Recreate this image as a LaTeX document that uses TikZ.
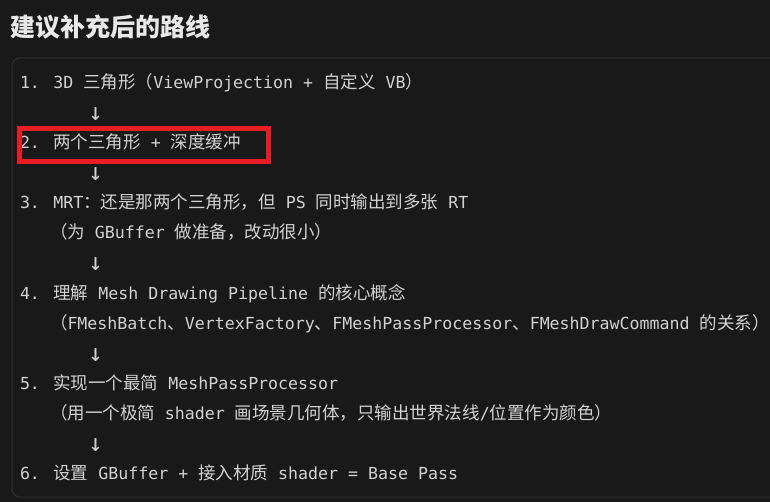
\documentclass[tikz,border=0pt]{standalone}
\usepackage{fontspec}
\newfontfamily\monof{DejaVu Sans Mono}
\newfontfamily\cjkf{Noto Sans CJK SC}
\newcommand\M[1]{{\monof\fontsize{16.6}{20}\selectfont #1}}
\newcommand\C[1]{{\cjkf\fontsize{17.5}{20}\selectfont #1}}
\newcommand\DA{{\monof\fontsize{24}{30}\selectfont ↓}}
\definecolor{bgc}{RGB}{25,25,25}
\definecolor{borderc}{RGB}{48,48,48}
\definecolor{txtc}{RGB}{210,210,210}
\definecolor{titlec}{RGB}{232,232,232}
\definecolor{redc}{RGB}{232,28,36}
\begin{document}
\begin{tikzpicture}[x=1pt,y=-1pt,
  codeline/.style={anchor=base west, inner sep=0pt, outer sep=0pt, text=txtc},
  downarrow/.style={anchor=base, inner sep=0pt, outer sep=0pt, text=txtc},
  blockframe/.style={draw=borderc, line width=1pt, rounded corners=8pt},
  highlight/.style={draw=redc, line width=5.3pt}]
\fill[bgc] (0,0) rectangle (770,502);
\useasboundingbox (0,0) rectangle (770,502);
\clip (0,0) rectangle (770,502);
% title
\node[anchor=base west, inner sep=0pt, text=titlec] (title) at (10.5,37) {\cjkf\bfseries\fontsize{25}{30}\selectfont 建议补充后的路线};
% code block
\draw[blockframe] (12,58) rectangle (800,497);
% lines
\node[codeline] (l1) at (20,89) {\M{1. 3D }\C{三角形（}\M{ViewProjection + }\C{自定义}\M{ VB}\C{）}};
\node[downarrow] (a1) at (95.5,121) {\DA};
\node[codeline] (l2) at (20,149) {\M{2. }\C{两个三角形}\M{ + }\C{深度缓冲}};
\node[downarrow] (a2) at (95.5,181) {\DA};
\node[codeline] (l3) at (20,209) {\M{3. MRT}\C{：还是那两个三角形，但}\M{ PS }\C{同时输出到多张}\M{ RT}};
\node[codeline] (l3b) at (50,239) {\C{（为}\M{ GBuffer }\C{做准备，改动很小）}};
\node[downarrow] (a3) at (95.5,271) {\DA};
\node[codeline] (l4) at (20,299) {\M{4. }\C{理解}\M{ Mesh Drawing Pipeline }\C{的核心概念}};
\node[codeline] (l4b) at (50,329) {\C{（}\M{FMeshBatch}\C{、}\M{VertexFactory}\C{、}\M{FMeshPassProcessor}\C{、}\M{FMeshDrawCommand }\C{的关系）}};
\node[downarrow] (a4) at (95.5,361) {\DA};
\node[codeline] (l5) at (20,389) {\M{5. }\C{实现一个最简}\M{ MeshPassProcessor}};
\node[codeline] (l5b) at (50,419) {\C{（用一个极简}\M{ shader }\C{画场景几何体，只输出世界法线}\M{/}\C{位置作为颜色）}};
\node[downarrow] (a5) at (95.5,451) {\DA};
\node[codeline] (l6) at (20,479) {\M{6. }\C{设置}\M{ GBuffer + }\C{接入材质}\M{ shader = Base Pass}};
% red highlight box
\draw[highlight] (19.3,128.7) rectangle (268.3,161.7);
\end{tikzpicture}
\end{document}
